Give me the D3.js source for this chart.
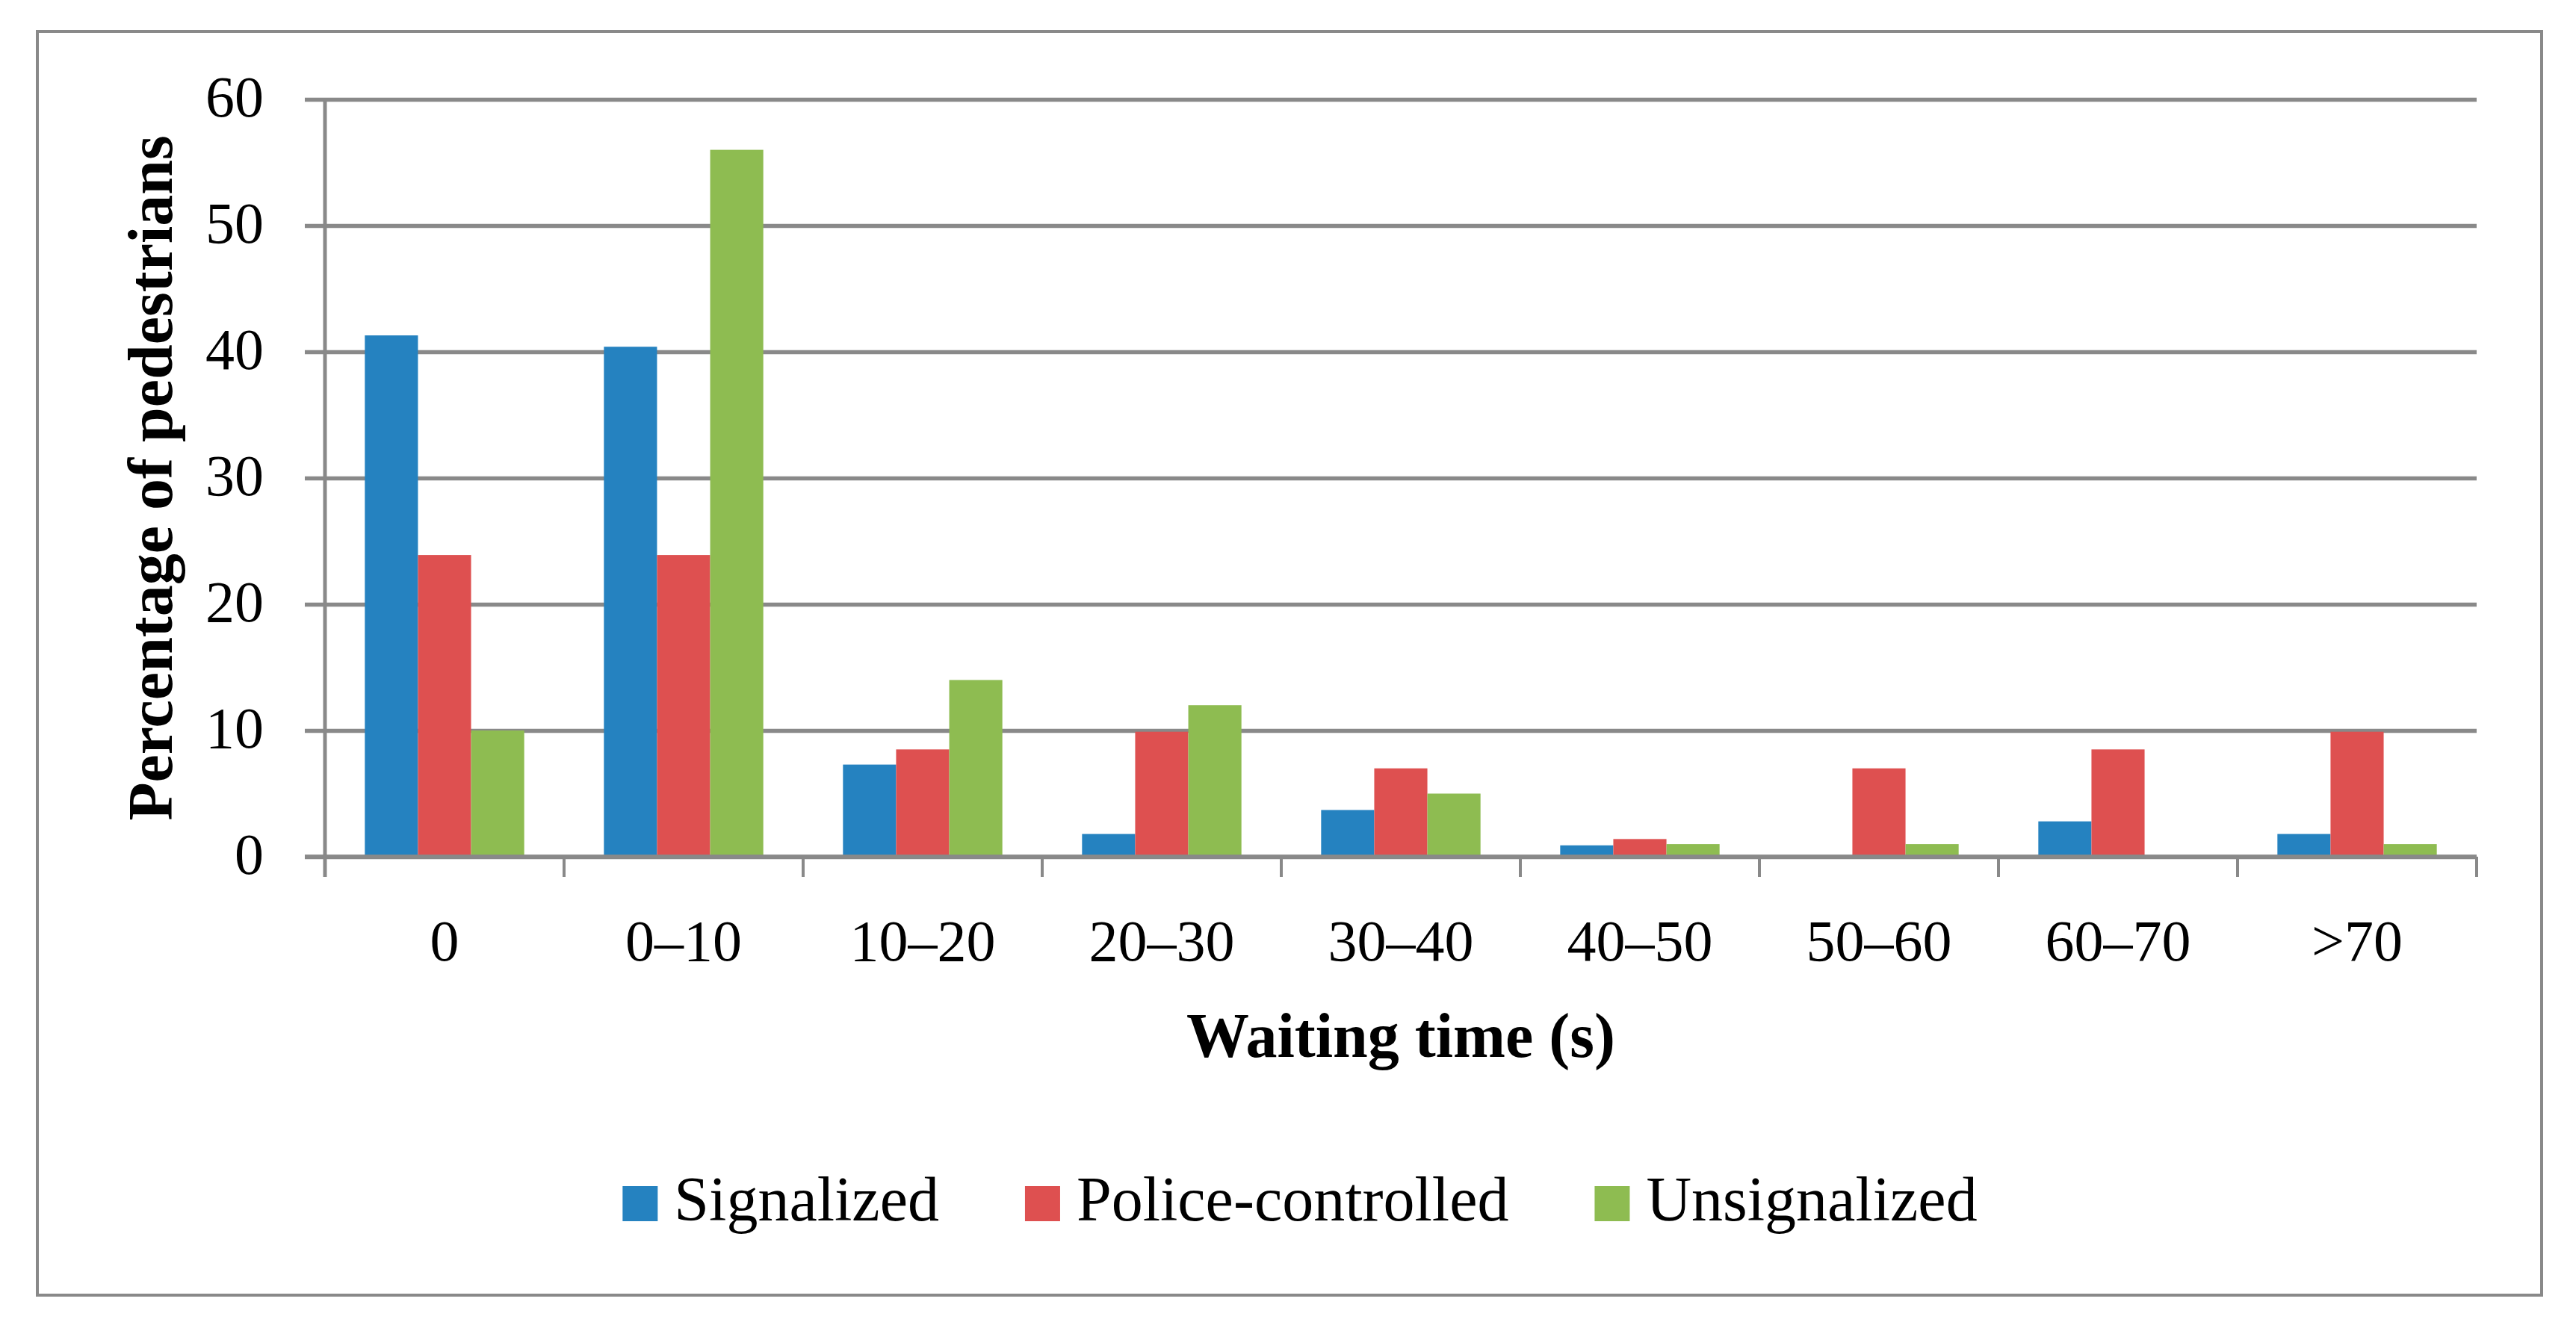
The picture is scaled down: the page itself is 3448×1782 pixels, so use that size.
<!DOCTYPE html>
<html>
<head>
<meta charset="utf-8">
<script src="https://cdn.jsdelivr.net/npm/d3@7"></script>
<style>
  html, body { margin: 0; padding: 0; background: #fff; }
  svg { display: block; }
  text { font-family: "Palatino Linotype", "Book Antiqua", Palatino, "Liberation Serif", serif; fill: #000; }
</style>
</head>
<body>
<svg id="chart" width="3448" height="1782"></svg>
<script>
const categories = ["0", "0\u201310", "10\u201320", "20\u201330", "30\u201340", "40\u201350", "50\u201360", "60\u201370", ">70"];
const seriesNames = ["Signalized", "Police-controlled", "Unsignalized"];
const signalized = [41.3, 40.4, 7.3, 1.8, 3.7, 0.9, 0, 2.8, 1.8];
const policeControlled = [23.9, 23.9, 8.5, 9.9, 7.0, 1.4, 7.0, 8.5, 9.9];
const unsignalized = [10.0, 56.0, 14.0, 12.0, 5.0, 1.0, 1.0, 0, 1.0];
const yTicks = [0, 10, 20, 30, 40, 50, 60];
const colors = ["#2582C0", "#DE5050", "#8EBC51"];

const seriesValues = [signalized, policeControlled, unsignalized];
const svg = d3.select("#chart");

const plotLeft = 435, plotRight = 3315, plotTop = 133, plotBottom = 1147;
const gridColor = "#898989";
const fontStack = "\"Palatino Linotype\", \"Book Antiqua\", Palatino, \"Liberation Serif\", serif";

// outer frame
svg.append("rect")
  .attr("x", 50).attr("y", 42).attr("width", 3352).attr("height", 1692)
  .attr("fill", "none").attr("stroke", gridColor).attr("stroke-width", 4);

const x = d3.scaleBand().domain(categories).range([plotLeft, plotRight]).paddingInner(0).paddingOuter(0);
const y = d3.scaleLinear().domain([0, 60]).range([plotBottom, plotTop]);
const x1 = d3.scaleBand().domain(seriesNames)
  .range([0, x.bandwidth()]).paddingInner(0).paddingOuter(0.75);

// gridlines + y ticks
const yAxis = d3.axisLeft(y).tickValues(yTicks).tickSize(-(plotRight - plotLeft)).tickPadding(0).tickFormat(d3.format("d"));
const gy = svg.append("g").attr("transform", `translate(${plotLeft},0)`).call(yAxis);
gy.select(".domain").remove();
gy.selectAll(".tick line").attr("stroke", gridColor).attr("stroke-width", 5.5).attr("x1", -27);
gy.selectAll(".tick text")
  .attr("x", -82).attr("dy", "0.29em")
  .attr("text-anchor", "end")
  .style("font-size", "78px")
  .style("font-family", fontStack);

// bars
const groups = svg.append("g").selectAll("g")
  .data(categories)
  .join("g")
  .attr("transform", d => `translate(${x(d)},0)`);

groups.selectAll("rect")
  .data((c, i) => seriesNames.map((s, k) => ({ s, k, v: seriesValues[k][i] })))
  .join("rect")
  .attr("x", d => x1(d.s))
  .attr("width", x1.bandwidth())
  .attr("y", d => y(d.v))
  .attr("height", d => y(0) - y(d.v))
  .attr("fill", d => colors[d.k]);

// y axis line
svg.append("line")
  .attr("x1", plotLeft).attr("x2", plotLeft).attr("y1", plotTop - 2).attr("y2", plotBottom + 27)
  .attr("stroke", gridColor).attr("stroke-width", 5);

// x axis
const xAxis = d3.axisBottom(x).tickSize(0).tickPadding(0);
const gx = svg.append("g").attr("transform", `translate(0,${plotBottom})`).call(xAxis);
gx.select(".domain").remove();
gx.selectAll(".tick text")
  .attr("y", 139).attr("dy", 0)
  .style("font-size", "78px")
  .style("font-family", fontStack);

svg.append("line")
  .attr("x1", plotLeft - 27).attr("x2", plotRight).attr("y1", plotBottom).attr("y2", plotBottom)
  .attr("stroke", gridColor).attr("stroke-width", 5.5);

// category boundary ticks
const boundaries = categories.map(c => x(c)).concat([plotRight]);
svg.append("g").selectAll("line")
  .data(boundaries)
  .join("line")
  .attr("x1", d => d).attr("x2", d => d)
  .attr("y1", plotBottom).attr("y2", plotBottom + 27)
  .attr("stroke", gridColor).attr("stroke-width", 4);

// axis titles
svg.append("text")
  .attr("transform", `translate(230,${(plotTop + plotBottom) / 2}) rotate(-90)`)
  .attr("text-anchor", "middle")
  .style("font-size", "84px").style("font-weight", "bold")
  .text("Percentage of pedestrians");

svg.append("text")
  .attr("x", (plotLeft + plotRight) / 2).attr("y", 1415)
  .attr("text-anchor", "middle")
  .style("font-size", "84px").style("font-weight", "bold")
  .text("Waiting time (s)");

// legend
const legend = svg.append("g");
const items = legend.selectAll("g").data(seriesNames).join("g");
items.append("rect")
  .attr("width", 47).attr("height", 47).attr("y", 1588)
  .attr("fill", (d, i) => colors[i]);
items.append("text")
  .attr("x", 69).attr("y", 1634)
  .style("font-size", "84px")
  .text(d => d);
let cursor = 0;
const offsets = [];
items.each(function (d, i) {
  const w = d3.select(this).select("text").node().getComputedTextLength();
  offsets.push(cursor);
  cursor += 69 + w + (i < seriesNames.length - 1 ? 115 : 0);
});
const startX = 1740 - cursor / 2;
items.attr("transform", (d, i) => `translate(${startX + offsets[i]},0)`);
</script>
</body>
</html>
